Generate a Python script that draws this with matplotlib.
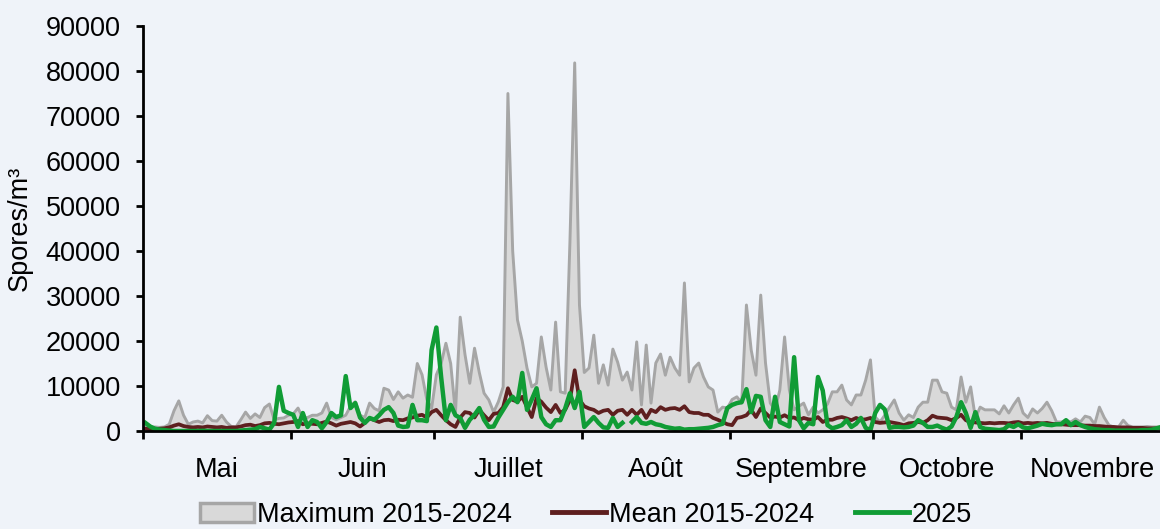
import numpy as np
import matplotlib
matplotlib.use("Agg")
import matplotlib.pyplot as plt
from matplotlib.patches import Patch
from matplotlib.lines import Line2D

months = ["Mai", "Juin", "Juillet", "Août", "Septembre", "Octobre", "Novembre"]
month_days = [31, 30, 31, 31, 30, 31, 30]

max_2015_2024 = [
    # Mai
    1000, 800, 900, 800, 900, 1500, 4500, 6700, 3500, 1500, 2000, 2200, 1800, 3400, 2300, 2200,
    3500, 2000, 1000, 900, 2500, 4200, 2800, 3800, 3000, 5200, 6000, 2500, 2800, 2900, 3500,
    # Juin
    3800, 5100, 2900, 3000, 3500, 3500, 4000, 6200, 3000, 2500, 3000, 3500, 5500, 6500, 3500,
    3000, 6200, 5000, 4500, 9500, 9100, 7000, 8700, 7300, 8000, 7500, 15000, 12500, 7000, 5000,
    # Juillet
    12500, 15000, 19500, 15000, 4000, 25300, 17000, 10600, 18400, 13000, 8400, 6900, 4200, 6500,
    9800, 75000, 40000, 24700, 20000, 14000, 9800, 10600, 20900, 14200, 9100, 24200, 8700, 8400,
    42000, 81800, 28000,
    # Août
    13000, 14000, 21300, 10600, 14700, 10200, 18200, 15300, 11300, 13100, 9100, 19800, 5800,
    19100, 6200, 15100, 17100, 12400, 16400, 14000, 12400, 32900, 10900, 14000, 15100, 12000,
    9800, 9100, 4200, 5300, 5100,
    # Septembre
    7000, 7600, 6200, 28000, 18000, 12400, 30200, 15100, 6200, 4700, 9100, 20900, 9100, 4700,
    5500, 6200, 3600, 5300, 4000, 4700, 6000, 8700, 8700, 10200, 6900, 5800, 8000, 8000, 11300,
    15800,
    # Octobre
    3100, 2000, 3500, 5300, 6900, 4000, 2400, 3600, 3000, 5300, 6400, 6400, 11300, 11300, 8700,
    8400, 5300, 4700, 12000, 6400, 9800, 2900, 5300, 4700, 4700, 4700, 3800, 5600, 4000, 5800,
    7300,
    # Novembre
    4000, 3000, 4900, 4000, 5000, 6400, 4500, 2000, 2000, 2400, 2000, 2700, 2000, 3300, 3000,
    1500, 5300, 3000, 1300, 900, 900, 2400, 1200, 900, 900, 900, 1000, 900, 900, 900,
]

mean_2015_2024 = [
    # Mai
    500, 400, 400, 500, 600, 800, 1200, 1500, 1100, 900, 800, 900, 800, 1000, 900, 800, 900,
    700, 800, 800, 1000, 1300, 1400, 1100, 1300, 1700, 1800, 1600, 1500, 1700, 1900,
    # Juin
    2000, 2200, 1500, 1700, 1600, 1500, 1800, 2100, 1700, 1200, 1600, 1800, 2000, 1700, 1000,
    1800, 2800, 2400, 2000, 2400, 2500, 2200, 2500, 2400, 2800, 3000, 3400, 3600, 3000, 4200,
    # Juillet
    4700, 3500, 2400, 1500, 900, 3000, 4200, 4000, 3000, 4700, 3500, 2400, 3800, 4000, 5300,
    9500, 6900, 6500, 7600, 5300, 3100, 7300, 6500, 5200, 4200, 5800, 4000, 4700, 6900, 13500,
    6900,
    # Août
    5500, 5000, 4700, 4000, 4500, 4700, 3600, 4500, 4700, 3600, 4700, 3600, 4700, 2900, 4700,
    4200, 5300, 4700, 5000, 5100, 4700, 5500, 4200, 4000, 4000, 3600, 3600, 2900, 2500, 2000,
    1500,
    # Septembre
    1300, 2900, 3100, 3500, 4700, 3100, 5000, 4000, 3000, 3200, 3000, 3500, 2900, 3000, 2400,
    2900, 2600, 2500, 3100, 2000, 2500, 2500, 2900, 3100, 2800, 2400, 2900, 2500, 2600, 2900,
    # Octobre
    2000, 1800, 1900, 2000, 1800, 1600, 1300, 1700, 1800, 2000, 1800, 2400, 3400, 3000, 2900,
    2800, 2400, 2900, 3600, 2400, 2000, 1900, 1800, 1700, 1800, 1700, 1800, 1800, 1700, 1900,
    2000,
    # Novembre
    1700, 1800, 1700, 1800, 1700, 1800, 1600, 1500, 1500, 1400, 1300, 1300, 1300, 1200, 1200,
    1100, 1100, 1000, 900, 900, 800, 800, 800, 700, 700, 700, 600, 600, 600, 600,
]

y2025 = [
    # Mai
    1800, 1000, 500, 300, 200, 100, 0, 0, 0, 0, 0, 0, 50, 0, 0, 0, 0, 0, 0, 0, 100, 200, 300,
    400, 900, 600, 300, 1800, 9800, 4500, 4000,
    # Juin
    3600, 900, 4000, 900, 2400, 2000, 600, 2000, 4000, 3100, 3500, 12200, 5100, 6200, 3000,
    1800, 2900, 2500, 3500, 4700, 5300, 4000, 1200, 900, 1000, 5800, 2400, 2400, 2200, 18000,
    # Juillet
    23000, 12000, 2400, 5800, 3500, 2900, 700, 2500, 3600, 5100, 2500, 900, 1000, 3000, 4700,
    6400, 7600, 6400, 12900, 4700, 7000, 9500, 3100, 1500, 900, 2400, 2400, 5000, 8400, 5100,
    8700,
    # Août
    900, 2000, 3100, 1800, 800, 700, 2900, 900, 1800, np.nan, 2000, 3100, 1800, 1600, 2000,
    1500, 1300, 900, 700, 500, 600, 300, 400, 400, 500, 600, 700, 900, 1300, 1600, 5100,
    # Septembre
    5800, 6200, 6400, 9300, 4200, 7800, 7600, 2400, 900, 7600, 2000, 1500, 1000, 16400, 2400,
    600, 1800, 1500, 12000, 9000, 1300, 600, 900, 1300, 2400, 900, 1600, 2900, 700, 200,
    # Octobre
    4000, 5800, 4800, 700, 900, 900, 800, 900, 1200, 2400, 1800, 900, 900, 1200, 700, 300,
    1000, 3100, 6400, 4000, 700, 4200, 900, 500, 400, 300, 200, 400, 1300, 900, 1500,
    # Novembre
    800, 600, 900, 1200, 1600, 1400, 1300, 1500, 1500, 2400, 1300, 2000, 1300, 900, 600, 400,
    300, 200, 200, 100, 100, 100, 100, 100, 100, 200, 200, 300, 600, 900,
]

series_labels = ["Maximum 2015-2024", "Mean 2015-2024", "2025"]

plt.rcParams['font.family'] = ['Liberation Sans', 'DejaVu Sans']
FS = 19.5
bg = '#EFF3F9'
c_fill, c_edge = '#D9D9D9', '#A6A6A6'
c_mean, c_2025 = '#5E1F1F', '#109C35'

fig = plt.figure(figsize=(11.6, 5.29), dpi=100, facecolor=bg)
ax = fig.add_axes([143 / 1160, 1 - 431 / 529, 1017 / 1160, 405 / 529])
ax.set_facecolor(bg)

x = np.arange(len(max_2015_2024)) + 0.5
ax.fill_between(x, 0, max_2015_2024, facecolor=c_fill, edgecolor='none', zorder=1)
ax.plot(x, max_2015_2024, color=c_edge, lw=2.1, zorder=2, solid_joinstyle='round')
ax.plot(x, mean_2015_2024, color=c_mean, lw=2.7, zorder=3, solid_joinstyle='round')
ax.plot(x, y2025, color=c_2025, lw=3.2, zorder=4, solid_joinstyle='round')

ax.set_ylim(0, 90000)
ax.set_yticks(np.arange(0, 90001, 10000))
ax.set_xlim(0, 213.2)

starts = np.concatenate([[0], np.cumsum(month_days)[:-1]])
mids = starts + np.array(month_days) / 2
ax.set_xticks(starts)
ax.set_xticklabels([])
ax.set_xticks(mids, minor=True)
ax.set_xticklabels(months, minor=True)
ax.tick_params(axis='x', which='minor', length=0, pad=19, labelsize=FS)
ax.tick_params(axis='x', which='major', length=6, width=2, direction='out')
ax.tick_params(axis='y', length=5, width=2, pad=11, labelsize=FS)

for s in ['top', 'right']:
    ax.spines[s].set_visible(False)
for s in ['left', 'bottom']:
    ax.spines[s].set_linewidth(2)
    ax.spines[s].set_zorder(5)

ax.set_ylabel("Spores/m³", fontsize=FS)
ax.yaxis.set_label_coords(-0.108, 0.5)

handles = [Patch(facecolor=c_fill, edgecolor=c_edge, linewidth=2.5),
           Line2D([], [], color=c_mean, lw=3.5),
           Line2D([], [], color=c_2025, lw=3.5)]
fig.legend(handles, series_labels, loc='center', bbox_to_anchor=(0.505, 0.027), ncol=3,
           frameon=False, fontsize=FS, handlelength=2.0, handletextpad=0.1,
           columnspacing=1.5, borderpad=0, borderaxespad=0)

fig.savefig('out.png', dpi=100, facecolor=bg)
